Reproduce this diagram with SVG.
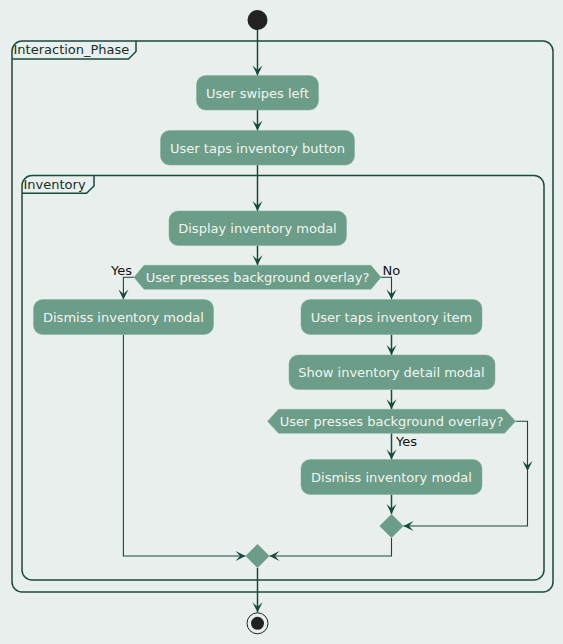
<svg xmlns="http://www.w3.org/2000/svg" width="563" height="644" viewBox="0 0 563 644">
  <style>
    .bg { fill: #E9EFEC; }
    .frame { fill: none; stroke: #184A3F; stroke-width: 1.5; }
    .frame-label { font-family: "DejaVu Sans", Verdana, sans-serif; font-size: 13px; fill: #14302A; }
    .act { fill: #6B9D88; stroke: #7FAE99; stroke-width: 0.5; }
    .act-text { font-family: "DejaVu Sans", Verdana, sans-serif; font-size: 13px; fill: #F2F5F0; text-anchor: middle; }
    .guard { font-family: "DejaVu Sans", Verdana, sans-serif; font-size: 13px; fill: #111111; }
    .merge { fill: #6B9D88; }
    .edge { fill: none; stroke: #174A3F; stroke-width: 1.5; }
    .edge.thin { stroke-width: 1.1; }
  </style>
  <defs>
    <marker id="arrow" viewBox="-11 -6 12 12" refX="0" refY="0" markerWidth="12" markerHeight="12" markerUnits="userSpaceOnUse" orient="auto">
      <path d="M0,0 L-10,-5 L-5.5,0 L-10,5 Z" fill="#174A3F"/>
    </marker>
  </defs>

  <rect class="bg" x="0" y="0" width="563" height="644"/>

  <!-- partitions -->
  <g id="frame-interaction-phase">
    <rect class="frame" x="12" y="41" width="541" height="551" rx="10"/>
    <path class="frame" d="M12,59 H128.5 L136,51.5 V41"/>
    <text class="frame-label" x="13.5" y="54">Interaction_Phase</text>
  </g>
  <g id="frame-inventory">
    <rect class="frame" x="22" y="175.5" width="522" height="404.5" rx="10"/>
    <path class="frame" d="M22,193.3 H86.5 L94,186 V175.5"/>
    <text class="frame-label" x="23.5" y="188.5">Inventory</text>
  </g>

  <!-- connectors -->
  <g id="connectors">
    <path class="edge" d="M257.5,30 V75.5" marker-end="url(#arrow)"/>
    <path class="edge" d="M257.5,110 V130.5" marker-end="url(#arrow)"/>
    <path class="edge" d="M257.5,165 V211" marker-end="url(#arrow)"/>
    <path class="edge" d="M257.5,245.5 V265.3" marker-end="url(#arrow)"/>
    <path class="edge thin" d="M134,277.3 H123.4 V299.5" marker-end="url(#arrow)"/>
    <path class="edge thin" d="M381,277.3 H391.5 V299.5" marker-end="url(#arrow)"/>
    <path class="edge" d="M391.5,334.5 V355" marker-end="url(#arrow)"/>
    <path class="edge" d="M391.5,389.5 V409.3" marker-end="url(#arrow)"/>
    <path class="edge" d="M391.5,433.3 V459.5" marker-end="url(#arrow)"/>
    <path class="edge thin" d="M515.6,421.3 H527.5 V471" marker-end="url(#arrow)"/>
    <path class="edge thin" d="M527.5,471 V526 H403.5" marker-end="url(#arrow)"/>
    <path class="edge" d="M391.5,494.5 V514" marker-end="url(#arrow)"/>
    <path class="edge thin" d="M391.5,538 V556 H269.5" marker-end="url(#arrow)"/>
    <path class="edge thin" d="M123.4,334.5 V556 H245.5" marker-end="url(#arrow)"/>
    <path class="edge" d="M257.5,568 V612.3" marker-end="url(#arrow)"/>
    <text class="guard" x="111" y="274.5">Yes</text>
    <text class="guard" x="382.5" y="274.5">No</text>
    <text class="guard" x="396" y="445.7">Yes</text>
  </g>

  <!-- start / stop -->
  <g id="start">
    <circle cx="257.5" cy="20" r="10" fill="#222222"/>
  </g>
  <g id="stop">
    <circle cx="257.5" cy="623.3" r="10.5" fill="none" stroke="#222222" stroke-width="1"/>
    <circle cx="257.5" cy="623.3" r="6.5" fill="#222222"/>
  </g>

  <!-- activities -->
  <g id="user-swipes-left">
    <rect class="act" x="196.5" y="75.5" width="122" height="34.5" rx="9"/>
    <text class="act-text" x="257.5" y="97.5">User swipes left</text>
  </g>
  <g id="user-taps-inventory-button">
    <rect class="act" x="160.5" y="130.5" width="194" height="34.5" rx="9"/>
    <text class="act-text" x="257.5" y="152.5">User taps inventory button</text>
  </g>
  <g id="display-inventory-modal">
    <rect class="act" x="169" y="211" width="177.5" height="34.5" rx="9"/>
    <text class="act-text" x="257.5" y="233">Display inventory modal</text>
  </g>
  <g id="decision-overlay-1">
    <polygon class="act" points="134,277.3 144,265.3 371,265.3 381,277.3 371,289.3 144,289.3"/>
    <text class="act-text" x="257.5" y="282">User presses background overlay?</text>
  </g>
  <g id="dismiss-inventory-modal-1">
    <rect class="act" x="33.5" y="299.5" width="180" height="35" rx="9"/>
    <text class="act-text" x="123.4" y="321.5">Dismiss inventory modal</text>
  </g>
  <g id="user-taps-inventory-item">
    <rect class="act" x="301" y="299.5" width="181" height="35" rx="9"/>
    <text class="act-text" x="391.5" y="321.5">User taps inventory item</text>
  </g>
  <g id="show-inventory-detail-modal">
    <rect class="act" x="289" y="355" width="206" height="34.5" rx="9"/>
    <text class="act-text" x="391.5" y="377">Show inventory detail modal</text>
  </g>
  <g id="decision-overlay-2">
    <polygon class="act" points="267.5,421.3 278.5,409.3 504.5,409.3 515.6,421.3 504.5,433.3 278.5,433.3"/>
    <text class="act-text" x="391.5" y="426">User presses background overlay?</text>
  </g>
  <g id="dismiss-inventory-modal-2">
    <rect class="act" x="301" y="459.5" width="181" height="35" rx="9"/>
    <text class="act-text" x="391.5" y="481.5">Dismiss inventory modal</text>
  </g>
  <g id="merge-1">
    <polygon class="merge" points="391.5,514 403.5,526 391.5,538 379.5,526"/>
  </g>
  <g id="merge-2">
    <polygon class="merge" points="257.5,544 269.5,556 257.5,568 245.5,556"/>
  </g>
</svg>
